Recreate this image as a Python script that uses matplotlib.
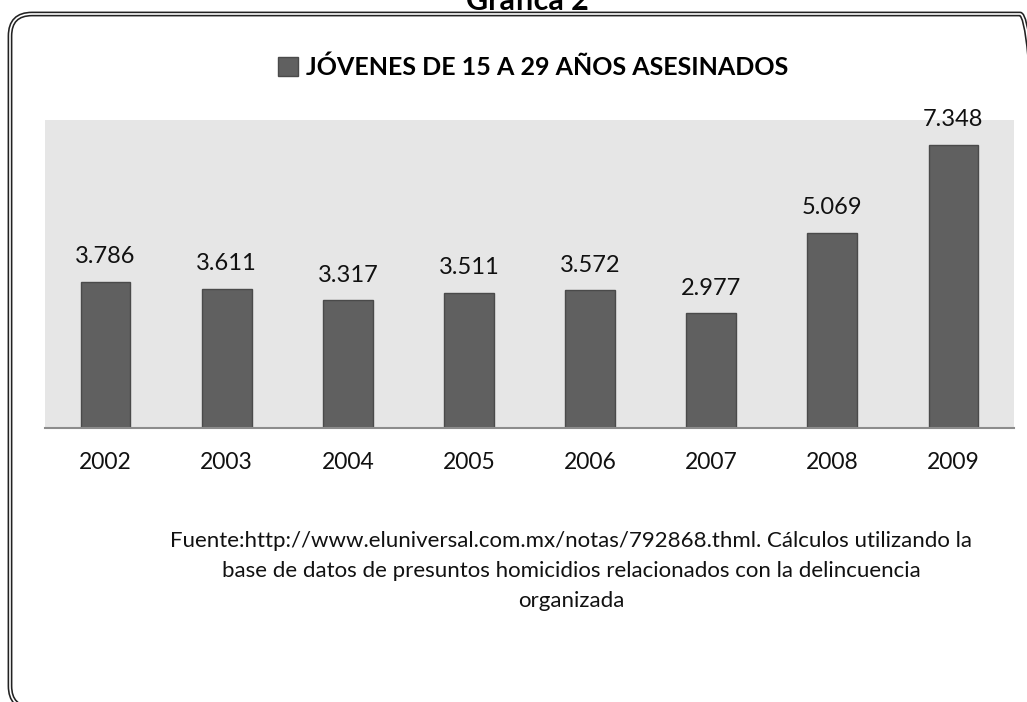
import matplotlib.pyplot as plt
from matplotlib.patches import FancyBboxPatch

# data
years = ["2002", "2003", "2004", "2005", "2006", "2007", "2008", "2009"]
asesinados = [3786, 3611, 3317, 3511, 3572, 2977, 5069, 7348]
etiquetas = ["3.786", "3.611", "3.317", "3.511", "3.572", "2.977", "5.069", "7.348"]
serie = "JÓVENES DE 15 A 29 AÑOS ASESINADOS"
fuente = ["Fuente:http://www.eluniversal.com.mx/notas/792868.thml. Cálculos utilizando la",
          "base de datos de presuntos homicidios relacionados con la delincuencia",
          "organizada"]

plt.rcParams['font.family'] = ['Lato', 'DejaVu Sans']

W, H = 1027, 702
fig = plt.figure(figsize=(W / 100, H / 100), dpi=100)

# rounded double-line frame around the chart (in pixel coords)
frame_kw = dict(boxstyle="round,pad=0,rounding_size=22", transform=None, fill=False)
fig.patches.append(FancyBboxPatch((10, -6), 1032, H - 14 + 6, lw=3.5, ec="#222222", **frame_kw))
fig.patches.append(FancyBboxPatch((10, -6), 1032, H - 14 + 6, lw=1.2, ec="white", **frame_kw))

# caption above the frame, cut off by the top edge
fig.text(527 / W, 1 - 10 / H, "Gráfica 2", ha="center", va="baseline",
         fontsize=22, fontweight="bold")

ax = fig.add_axes([45 / W, 1 - 428 / H, 969 / W, 308 / H])
ax.set_facecolor("#e6e6e6")

x = range(len(years))
bars = ax.bar(x, asesinados, width=0.41, color="#606060", edgecolor="#4a4a4a",
              linewidth=1, label=serie)

ax.set_xlim(-0.5, len(years) - 0.5)
ax.set_ylim(0, 8000)

for b, t in zip(bars, etiquetas):
    ax.annotate(t, (b.get_x() + b.get_width() / 2, b.get_height()),
                xytext=(0, 13.5), textcoords="offset points",
                ha="center", va="baseline", fontsize=17, color="#111111")

ax.set_xticks(list(x))
ax.set_xticklabels(years, fontsize=16.5, color="#111111")
ax.tick_params(axis="x", length=0, pad=17)
ax.set_yticks([])

for s in ["top", "left", "right"]:
    ax.spines[s].set_visible(False)
ax.spines["bottom"].set_color("#8c8c8c")
ax.spines["bottom"].set_linewidth(1.5)

# series legend used as the chart heading
leg = ax.legend(loc="center", bbox_to_anchor=(533 / W, 1 - 67 / H),
                bbox_transform=fig.transFigure, frameon=False,
                handlelength=0.8, handleheight=0.8, handletextpad=0.3,
                prop={"weight": "bold", "size": 18})

# source note
for i, linea in enumerate(fuente):
    fig.text(571 / W, 1 - (547 + 30 * i) / H, linea, ha="center", va="baseline",
             fontsize=16, color="#111111")

fig.savefig("out.png", dpi=100)
